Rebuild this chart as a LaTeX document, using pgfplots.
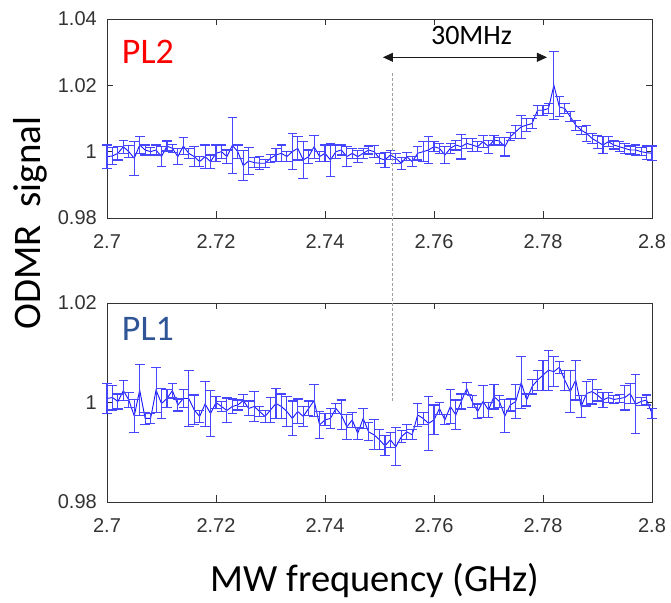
\documentclass[border=0pt]{standalone}
\usepackage{fontspec}
\setmainfont{Carlito}
\newfontfamily\arial{Liberation Sans}
\usepackage{pgfplots}
\pgfplotsset{compat=1.18}
\usepackage{pgfplotstable}
\usetikzlibrary{arrows.meta}
\definecolor{axgray}{HTML}{333333}
\definecolor{plblue}{HTML}{2F5597}
\definecolor{dblue}{RGB}{20,20,255}
\definecolor{ebblue}{RGB}{70,70,255}
\definecolor{dashgray}{HTML}{A0A0A0}

% PL2 (top panel)
\pgfplotstableread{
x y e
2.700 0.9985 0.0035
2.701 0.9987 0.0025
2.702 0.9995 0.0020
2.703 1.0015 0.0020
2.704 1.0000 0.0018
2.705 0.9980 0.0051
2.706 1.0020 0.0025
2.707 1.0005 0.0015
2.708 1.0000 0.0012
2.709 1.0005 0.0015
2.710 0.9985 0.0030
2.711 1.0017 0.0015
2.712 1.0010 0.0012
2.713 0.9985 0.0025
2.714 1.0017 0.0025
2.715 0.9995 0.0015
2.716 0.9985 0.0030
2.717 0.9970 0.0015
2.718 0.9985 0.0035
2.719 0.9970 0.0020
2.720 0.9995 0.0025
2.721 1.0000 0.0020
2.722 0.9985 0.0020
2.723 1.0019 0.0084
2.724 1.0000 0.0020
2.725 0.9958 0.0045
2.726 0.9972 0.0040
2.727 0.9967 0.0015
2.728 0.9965 0.0020
2.729 0.9965 0.0012
2.730 0.9980 0.0012
2.731 0.9990 0.0020
2.732 0.9995 0.0025
2.733 0.9985 0.0015
2.734 1.0000 0.0055
2.735 1.0010 0.0035
2.736 0.9975 0.0055
2.737 0.9985 0.0020
2.738 1.0015 0.0035
2.739 0.9985 0.0015
2.740 0.9995 0.0025
2.741 0.9975 0.0050
2.742 1.0000 0.0020
2.743 1.0005 0.0015
2.744 0.9985 0.0030
2.745 0.9995 0.0015
2.746 0.9985 0.0018
2.747 0.9995 0.0015
2.748 1.0005 0.0012
2.749 1.0000 0.0018
2.750 0.9980 0.0015
2.751 0.9975 0.0023
2.752 0.9990 0.0013
2.753 0.9980 0.0015
2.754 0.9965 0.0018
2.755 0.9985 0.0012
2.756 0.9970 0.0015
2.757 0.9995 0.0020
2.758 1.0000 0.0030
2.759 1.0005 0.0040
2.760 1.0015 0.0015
2.761 1.0010 0.0015
2.762 0.9990 0.0026
2.763 1.0010 0.0015
2.764 1.0020 0.0015
2.765 1.0015 0.0037
2.766 1.0025 0.0015
2.767 1.0020 0.0020
2.768 1.0015 0.0015
2.769 1.0030 0.0018
2.770 1.0015 0.0020
2.771 1.0035 0.0015
2.772 1.0032 0.0012
2.773 1.0015 0.0028
2.774 1.0045 0.0012
2.775 1.0060 0.0020
2.776 1.0075 0.0034
2.777 1.0080 0.0020
2.778 1.0085 0.0015
2.779 1.0125 0.0015
2.780 1.0125 0.0015
2.781 1.0130 0.0015
2.782 1.0200 0.0103
2.783 1.0135 0.0030
2.784 1.0130 0.0015
2.785 1.0105 0.0015
2.786 1.0080 0.0015
2.787 1.0065 0.0012
2.788 1.0055 0.0025
2.789 1.0040 0.0015
2.790 1.0030 0.0020
2.791 1.0020 0.0025
2.792 1.0030 0.0015
2.793 1.0020 0.0012
2.794 1.0015 0.0015
2.795 1.0010 0.0015
2.796 1.0005 0.0012
2.797 1.0005 0.0015
2.798 1.0000 0.0012
2.799 0.9997 0.0020
2.800 0.9995 0.0022
}\pltwo

% PL1 (bottom panel)
\pgfplotstableread{
x y e
2.700 1.0008 0.0030
2.701 1.0010 0.0025
2.702 1.0002 0.0015
2.703 1.0024 0.0020
2.704 1.0005 0.0015
2.705 0.9973 0.0033
2.706 1.0025 0.0052
2.707 0.9968 0.0012
2.708 0.9968 0.0010
2.709 1.0025 0.0045
2.710 0.9998 0.0030
2.711 1.0008 0.0018
2.712 1.0024 0.0015
2.713 0.9995 0.0012
2.714 1.0008 0.0018
2.715 1.0008 0.0056
2.716 0.9985 0.0030
2.717 0.9972 0.0012
2.718 0.9997 0.0045
2.719 0.9978 0.0047
2.720 1.0000 0.0012
2.721 0.9992 0.0010
2.722 0.9984 0.0025
2.723 0.9992 0.0015
2.724 0.9995 0.0010
2.725 1.0004 0.0012
2.726 0.9988 0.0015
2.727 0.9992 0.0030
2.728 0.9982 0.0010
2.729 0.9972 0.0012
2.730 0.9985 0.0025
2.731 0.9998 0.0030
2.732 0.9992 0.0025
2.733 0.9982 0.0030
2.734 0.9968 0.0035
2.735 0.9982 0.0025
2.736 0.9972 0.0020
2.737 0.9988 0.0015
2.738 1.0004 0.0033
2.739 0.9955 0.0027
2.740 0.9965 0.0012
2.741 0.9968 0.0020
2.742 0.9988 0.0010
2.743 0.9975 0.0030
2.744 0.9951 0.0025
2.745 0.9965 0.0015
2.746 0.9938 0.0012
2.747 0.9968 0.0020
2.748 0.9941 0.0018
2.749 0.9935 0.0030
2.750 0.9925 0.0020
2.751 0.9913 0.0020
2.752 0.9925 0.0015
2.753 0.9911 0.0038
2.754 0.9931 0.0012
2.755 0.9941 0.0015
2.756 0.9935 0.0010
2.757 0.9975 0.0023
2.758 0.9968 0.0012
2.759 0.9958 0.0054
2.760 0.9965 0.0030
2.761 0.9988 0.0012
2.762 0.9965 0.0010
2.763 0.9992 0.0035
2.764 0.9975 0.0030
2.765 1.0002 0.0015
2.766 1.0028 0.0012
2.767 1.0002 0.0012
2.768 0.9982 0.0015
2.769 1.0002 0.0032
2.770 0.9985 0.0015
2.771 1.0012 0.0025
2.772 1.0002 0.0012
2.773 0.9973 0.0033
2.774 0.9995 0.0012
2.775 1.0002 0.0035
2.776 1.0040 0.0052
2.777 1.0005 0.0012
2.778 1.0032 0.0015
2.779 1.0045 0.0020
2.780 1.0055 0.0030
2.781 1.0065 0.0040
2.782 1.0062 0.0030
2.783 1.0071 0.0012
2.784 1.0045 0.0020
2.785 1.0022 0.0043
2.786 1.0045 0.0040
2.787 0.9992 0.0022
2.788 1.0018 0.0025
2.789 1.0022 0.0025
2.790 1.0015 0.0012
2.791 1.0005 0.0015
2.792 1.0010 0.0010
2.793 1.0006 0.0008
2.794 1.0008 0.0008
2.795 1.0010 0.0025
2.796 1.0018 0.0020
2.797 0.9997 0.0060
2.798 1.0002 0.0008
2.799 1.0005 0.0010
2.800 0.9978 0.0010
}\plone

\begin{document}
\begin{tikzpicture}
\useasboundingbox (0,0) rectangle (671pt,602pt);
\pgfplotsset{
  odmr/.style={
    scale only axis, width=545pt, height=199pt, anchor=south west,
    xmin=2.7, xmax=2.8,
    xtick={2.7,2.72,2.74,2.76,2.78,2.8},
    xticklabels={2.7,2.72,2.74,2.76,2.78,2.8},
    axis line style={axgray, line width=0.8pt},
    xtick style={axgray, line width=0.8pt},
    ytick style={axgray, line width=0.8pt},
    major tick length=6.5pt,
    tick label style={font=\arial\fontsize{20}{24}\selectfont, text=axgray},
    xticklabel style={anchor=north, inner sep=0pt, yshift=-16pt},
    yticklabel style={anchor=east, inner sep=0pt, xshift=-10pt},
    clip=false,
    every error bar/.append style={draw=ebblue, color=ebblue, line width=1.1pt},
    error bars/error mark options={rotate=90, draw=ebblue, color=ebblue, mark size=4.8pt, line width=1.1pt},
  },
}
% top panel: PL2
\begin{axis}[odmr, at={(107pt,384pt)},
  ymin=0.98, ymax=1.04,
  ytick={0.98,1,1.02,1.04}, yticklabels={0.98,1,1.02,1.04}]
\addplot[draw=dblue, color=dblue, line width=0.9pt, mark=none,
  error bars/.cd, y dir=both, y explicit,
  error bar style={draw=ebblue, line width=1.1pt}]
  table[x=x, y=y, y error=e] {\pltwo};
\coordinate (dtop) at (axis cs:2.75229,1.02372);
\draw[black!90, line width=0.8pt, {Triangle[length=10pt,width=9pt]}-{Triangle[length=10pt,width=9pt]}]
  (axis cs:2.75064,1.02845) -- (axis cs:2.78073,1.02845);
\node[anchor=base, inner sep=0pt, font=\fontsize{28}{32}\selectfont] at (axis cs:2.76688,1.03237) {30MHz};
\node[anchor=base west, inner sep=0pt, text=red, font=\fontsize{36}{40}\selectfont] at (axis cs:2.7027,1.02664) {PL2};
\end{axis}
% bottom panel: PL1
\begin{axis}[odmr, at={(107pt,100pt)},
  ymin=0.98, ymax=1.02,
  ytick={0.98,1,1.02}, yticklabels={0.98,1,1.02}]
\addplot[draw=dblue, color=dblue, line width=0.9pt, mark=none,
  error bars/.cd, y dir=both, y explicit,
  error bar style={draw=ebblue, line width=1.1pt}]
  table[x=x, y=y, y error=e] {\plone};
\coordinate (dbot) at (axis cs:2.75229,1.0001);
\node[anchor=base west, inner sep=0pt, text=plblue, font=\fontsize{36}{40}\selectfont] at (axis cs:2.7027,1.01242) {PL1};
\end{axis}
\draw[dashgray, line width=0.8pt, dash pattern=on 3pt off 2pt] (dtop) -- (dbot);
\node[rotate=90, anchor=base, inner sep=0pt, font=\fontsize{39}{44}\selectfont] at (40pt,379pt) {ODMR\ \ signal};
\node[anchor=base, inner sep=0pt, font=\fontsize{38.5}{44}\selectfont] at (375pt,10.3pt) {MW frequency (GHz)};
\end{tikzpicture}
\end{document}
